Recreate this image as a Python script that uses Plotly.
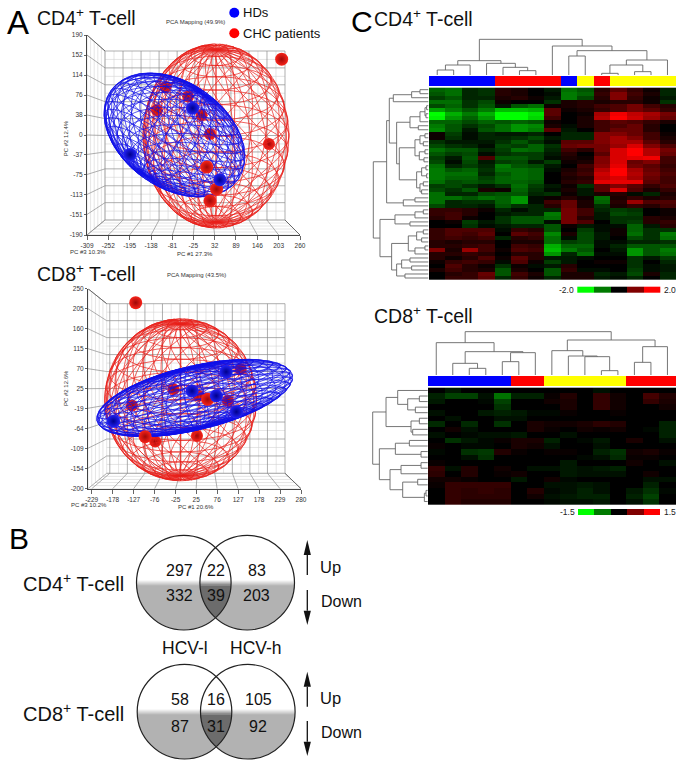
import numpy as np
import plotly.graph_objects as go

W, H = 683, 767
FONT = "Liberation Sans"
RED, BLUE, YEL = "#ff0000", "#0000ff", "#ffff00"

# ---------- PCA data (values read in PC units) ----------
cd4_x_ticks = [-309, -252, -195, -138, -81, -25, 32, 89, 146, 203, 260]
cd4_x_text = ["-309", "-252", "-195", "-138", "-81", "-25", "32", "89", "146", "203", "260"]
cd4_y_ticks = [190, 152, 114, 76, 38, 0, -37, -75, -113, -151, -190]
cd4_y_text = ["190", "152", "114", "76", "38", "0", "-37", "-75", "-113", "-151", "-190"]
cd4_red_back_x = [177, 19.5, -3, -39, -99, -122]
cd4_red_back_y = [-17, 2, 38, 73, 91, 47]
cd4_red_front_x = [211, 11, 37, 19.5]
cd4_red_front_y = [144, -61, -103, -125]
cd4_blue_x = [-194, -27, 46]
cd4_blue_y = [-37, 51, -85]

cd8_x_ticks = [-229, -178, -127, -76, -25, 25, 76, 127, 178, 229, 280]
cd8_x_text = ["-229", "-178", "-127", "-76", "-25", "25", "76", "127", "178", "229", "280"]
cd8_y_ticks = [250, 205, 160, 115, 70, 25, -19, -64, -109, -154, -200]
cd8_y_text = ["250", "205", "160", "115", "70", "25", "-19", "-64", "-109", "-154", "-200"]
cd8_red_back_x = [-30, -131, -74.5, 27, 31, 102, 133]
cd8_red_back_y = [24, -13, -94, -81, 9, -2, 69]
cd8_red_front_x = [-122, -99, 53]
cd8_red_front_y = [218.5, -83, 1]
cd8_blue_x = [-176, 15, 74, 98, 123]
cd8_blue_y = [-48, 20, 9, 63, -27]

# ---------- Heatmap data ----------
cd4_groups = [0, 0, 0, 0, 1, 1, 1, 1, 0, 2, 1, 2, 2, 2, 2]
cd8_groups = [0, 0, 0, 0, 0, 1, 1, 2, 2, 2, 2, 2, 1, 1, 1]
cd4_z = [
[-.8,-.9,-.3,-.4,.3,.2,0,-.2,-.9,-.7,.3,.7,.4,.1,-.3],
[-.7,-.9,-.3,-.4,.3,.2,0,-.1,-1,-.8,.4,1,.5,.2,-.3],
[-.5,-.7,-.3,-.3,.2,.3,.1,-.2,-1,-.6,.3,1,.4,.1,-.2],
[-.9,-.9,-.4,-.6,.1,0,0,-.4,.2,.3,.2,.3,.3,.1,-.4],
[-.6,-.8,-.4,-.7,-.2,-.7,-.9,.1,.2,.3,.5,.6,.9,.5,.3],
[-1.3,-1,-.7,-1,-1.5,-1.5,-1.4,.7,.1,.2,.4,.6,.9,.7,.4],
[-2,-1.4,-1,-1.4,-2,-2,-1.8,.7,0,.1,1.3,1.9,1.5,1.3,.9],
[-1.9,-1.2,-.8,-1.2,-2,-2,-1.7,.5,0,.2,1.4,2,1.6,1.2,.8],
[-.8,-.8,-.6,-.8,-.7,-.8,-.7,.1,0,.2,.5,.7,.6,.4,.2],
[-1,-.7,-.4,-.6,-.9,-1.2,-1.1,.2,-.1,.2,.5,.6,.8,.3,0],
[-1.1,-.7,-.2,-.7,-.9,-1.2,-1,.7,-.2,0,.5,.8,.8,.3,0],
[.1,-.5,-.1,-.3,-.2,-.2,-.3,0,-.3,-.3,1,1,.8,.5,.1],
[.1,-.4,-.1,-.3,-.3,-.4,-.6,-.2,-.3,-.3,1,1.3,1,.5,.2],
[-.4,-.2,-.2,-.2,-.4,-.7,-.4,-.1,.7,.7,1,1.3,1.3,.7,.3],
[-.6,-.4,-.3,-.1,-.6,-.5,-.8,-.4,.8,.9,.9,1.2,1.7,1,.6],
[-.9,-.7,-.7,-.3,-.5,-.9,-.8,-.3,.5,.3,.9,1.7,2,1.4,.9],
[-.7,-.5,-.6,-.1,-.4,-.5,-.5,-.2,.3,0,.7,1.7,2,1.4,.8],
[-.5,-.2,-.7,.6,-.7,-.7,-.5,-.1,.2,.1,1,1.7,1.8,1.9,.5],
[-.6,-.1,-.6,-.2,-.5,-.6,-.2,-.5,.1,.2,1,1.7,.8,1,.5],
[-.9,-.3,-.5,-.3,-1,-.7,-.6,-.2,0,.5,1.1,1.8,.9,.7,.4],
[-1,-.7,-.8,-.4,-.9,-.9,-.8,-.1,.2,.4,1.4,2,1.3,.8,.5],
[-1,-.9,-.9,-.3,-.7,-.9,-.8,0,.3,.5,1.6,2,1.4,.9,.6],
[-1,-.8,-.8,-.5,-.8,-.9,-.8,0,.2,.3,1.5,1.7,1.3,.8,.5],
[-.9,-.6,-.7,-.6,-.8,-.8,-.7,0,.3,.4,1.8,1.8,1.8,.7,.5],
[-.5,-.6,-.4,-.2,-.4,-.9,-.5,-.2,.1,-.4,.7,1,.7,.4,.6],
[-.6,-.4,-.7,.2,.1,-.8,-.4,-.1,.2,-.2,.7,1.7,.6,.2,.4],
[-.9,-.3,-.3,-.6,-.7,-.7,-.3,-.4,.1,-.2,.2,.3,-.1,-.3,.2],
[-.9,-.9,-.7,-.9,-.8,-1.2,-.1,.1,.3,.1,-.9,.2,.4,.2,.3],
[-.9,-.3,-.4,-.4,-.8,-1.2,-.1,.5,.8,.2,-.8,.3,1.2,.6,.6],
[-.6,-.3,-.3,-.2,-.7,-.4,-.3,.3,.8,.2,-.4,.2,.4,.3,.5],
[.4,.4,.3,.1,-.3,-.1,-.3,-.3,.9,.5,-.3,-.5,-.4,0,.1],
[.4,.5,.3,0,-.2,-.3,-.3,-1,.9,.5,-.2,-.6,-.5,0,.1],
[.3,.5,.1,0,-.4,-.7,-.7,-.9,.9,.3,-.2,-.4,-.4,.3,.2],
[0,.1,-.5,-.2,-.4,-.7,-.7,-.1,.9,.6,0,-.4,-.5,.3,.4],
[0,0,-.4,-.1,-.2,-.3,-.3,-.7,.1,-.2,-.1,-.1,-.8,-.2,.3],
[.4,.6,.6,.6,-.1,.4,.3,-.7,0,-.5,-.1,.1,-.8,-.4,-.4],
[.4,.6,.5,.7,0,.7,.5,-1.1,.2,-.6,-.2,.1,-.9,-.4,-1],
[.4,.5,.4,.5,-.3,.3,.4,-.9,-.1,-.6,-.2,0,-.6,-.4,-.9],
[.3,.2,.3,.3,0,.2,.2,-.9,-.5,-.6,-.1,-.1,-.3,-.3,-.4],
[.3,.3,.4,.5,0,.5,.4,-1.4,-.8,-.8,-.1,-.3,-.7,-.7,-.7],
[1,.2,1.2,.5,.1,.6,.5,-1.5,-1,-.7,0,-.2,-1.2,-.7,-1],
[.3,.3,.4,.3,0,.3,.3,-1.2,-.3,-.9,-.1,-.1,-1.2,-.7,-.9],
[.3,.1,.3,.6,.1,.7,.3,-.2,-.2,-.1,0,0,-.4,-.2,-.5],
[.1,.4,.5,.4,-.1,.6,.1,-.5,-.2,0,.1,.1,-.4,0,-.3],
[0,.6,.3,.1,-.4,.1,-.1,-.2,.3,0,0,0,-.4,-.1,-.2],
[.2,.5,.3,.2,-.7,.2,0,-.7,.4,-.1,-.1,0,-.5,-.1,-.2],
[0,.3,.4,.8,-.7,.5,.2,-.7,.2,.2,-.3,-.2,-.6,.2,-.3],
[0,.4,.4,.7,-.3,.4,.1,-.3,.2,.2,-.2,-.1,-.3,0,-.3],
]
cd8_z = [
[0,-.15,0,0,0,0,0,0,0,0,-.1,0,0,0,0],
[-.2,-.4,-.4,-.1,-.7,-.2,-.2,.05,.2,0,.3,.1,0,.4,.2],
[-.15,0,0,-.05,-.4,0,0,.1,.15,0,.3,.1,0,.3,.15],
[0,0,0,0,-.3,0,0,0,.15,0,.3,.1,0,0,.1],
[-.1,0,0,-.15,-.2,-.15,-.05,-.05,.05,0,0,.05,0,0,0],
[0,-.1,0,0,-.1,-.1,0,0,0,0,0,0,0,0,0],
[-.25,0,-.25,0,-.3,0,.15,.1,.1,.15,.25,.2,0,0,-.2],
[0,.1,-.1,0,0,0,.15,.05,0,.1,.05,.1,0,-.05,-.2],
[-.1,0,-.05,-.1,-.1,-.15,0,0,-.1,0,0,0,0,0,-.2],
[0,-.3,-.15,-.05,.05,.15,.15,-.2,0,-.05,-.15,0,.15,0,-.1],
[.05,0,-.05,-.05,0,.15,.1,-.1,0,0,-.1,0,0,0,0],
[-.05,0,-.3,-.35,.2,.05,0,.05,.05,0,-.2,-.3,.1,.15,.05],
[0,0,-.1,-.3,0,0,0,0,0,-.05,-.1,-.25,.05,.05,0],
[.05,0,0,0,0,0,0,0,-.15,0,0,0,.1,0,-.1],
[.3,-.1,.2,0,.1,0,-.1,-.1,-.15,-.1,-.15,-.2,0,0,0],
[.25,0,.2,0,.05,.1,0,0,-.15,-.1,-.1,-.1,0,.1,0],
[.1,.1,.05,0,0,-.15,0,.1,-.05,0,0,0,0,-.1,-.1],
[.05,.3,.3,.3,.3,0,0,-.1,-.1,-.15,-.1,0,0,-.2,0],
[0,.3,.25,.3,.25,0,.2,-.05,-.1,-.2,-.1,0,-.15,-.3,-.05],
[0,.3,.25,.25,.25,0,.1,-.1,-.15,-.2,-.2,0,-.2,-.4,0],
[0,.3,.2,.2,.2,0,0,-.05,-.1,-.1,-.15,0,-.1,-.3,0],
]
scale4_vals = [-2, -1, 0, 1, 2]
scale8_vals = [-1.5, -.75, 0, .75, 1.5]

# ---------- Dendrogram merges [distance, left, right]; ints are leaves ----------
cd4_col_tree = [107, [43, [30, [15, 0, 1], 2], [35, 3, [23, 4, [13, 5, 6]]]],
                [87, 7, [73, [57, 8, 9], [45, [30, [5, 10, 11], [10, 12, 13]], 14]]]]
cd8_col_tree = [130, [97, 0, [70, [35, 1, [20, 2, 3]], [67, [40, 4, 5], 6]]],
                [105, [73, 7, [57, 8, [55, 9, [13, 10, 11]]]], [85, [38, 12, 13], 14]]]
_A = [105, [50, [25, 0, 1], 2], 3]
_B = [55, [25, [10, [5, 4, 5], [7, 6, 7]], 8], [30, 9, 10]]
_C = [87, [40, [25, [10, 11, 12], [15, 13, 14]], [27, [10, 15, 16], [13, 17, 18]]],
      [35, [20, [7, 19, 20], [5, 21, 22]], [25, [15, 23, 24], [20, 25, 26]]]]
_D = [75, [40, 27, 28], 29]
_E = [100, [40, [15, 30, 31], 32], [55, 33, 34]]
_F = [110, [60, [35, [15, 35, 36], [20, 37, 38]], [40, [10, 39, 40], 41]],
      [95, [80, [55, 42, 43], [50, 44, 45]], [70, 46, 47]]]
cd4_row_tree = [165, [125, [117, _A, [95, _B, _C]], _D], [145, _E, _F]]
cd8_row_tree = [165,
    [125, [90, 0, [60, [25, 1, 2], [37, 3, 4]]], [50, [25, 5, 6], [45, 7, 8]]],
    [145, [97, [55, 9, 10], [20, 11, 12]],
     [113, [80, [20, 13, 14], 15], [75, [30, 16, 17], [10, [5, 18, 19], 20]]]]]

# ---------- Venn counts ----------
venn_cd4_up = ["297", "22", "83"]
venn_cd4_down = ["332", "39", "203"]
venn_cd8_up = ["58", "16", "105"]
venn_cd8_down = ["87", "31", "92"]

fig = go.Figure()
anns, shapes = [], []


def label(x, y, s, size, color="#111111", anchor="center", angle=0):
    anns.append(dict(x=x, y=y, xref="x", yref="y", text=s, showarrow=False,
                     font=dict(family=FONT, size=size, color=color), borderpad=0,
                     xanchor=anchor, yanchor="middle", textangle=angle))


def unit_mesh(tilt, nlat, nlon):
    lines = []
    lat = np.linspace(-np.pi / 2, np.pi / 2, nlat + 1)
    lon = np.linspace(0, 2 * np.pi, nlon + 1)
    fine = np.linspace(0, 2 * np.pi, 80)
    for la in lat[1:-1]:
        lines.append((np.cos(la) * np.cos(fine), np.cos(la) * np.sin(fine), np.sin(la) * np.ones_like(fine)))
    fl = np.linspace(-np.pi / 2, np.pi / 2, 40)
    for lo in lon[:-1]:
        lines.append((np.cos(fl) * np.cos(lo), np.cos(fl) * np.sin(lo), np.sin(fl)))
        lines.append((np.cos(fl) * np.cos(lo + fl), np.cos(fl) * np.sin(lo + fl), np.sin(fl)))
    xs, ys = [], []
    for X, Y, Z in lines:
        y2 = Y * np.sin(tilt) - Z * np.cos(tilt)
        xs += list(X) + [None]
        ys += list(y2) + [None]
    return xs, ys


def panel(sub, front, back, xr, yr, xt, xtx, yt, ytx, meshes, back_sph, front_sph):
    fx0, fx1, fy0, fy1 = front
    bx0, bx1, by0, by1 = back
    axn = str(sub)
    common = dict(tickmode="array", showgrid=False, zeroline=False, showline=True, linecolor="#444", linewidth=1,
                  ticks="outside", tickcolor="#666", tickwidth=0.6, automargin=False,
                  tickfont=dict(family=FONT, size=6.5, color="#333"))
    fig.update_layout({
        "xaxis" + axn: dict(domain=[fx0 / W, fx1 / W], range=xr, tickvals=xt, ticktext=xtx, ticklen=4,
                            anchor="y" + axn, **common),
        "yaxis" + axn: dict(domain=[1 - fy1 / H, 1 - fy0 / H], range=yr, tickvals=yt, ticktext=ytx, ticklen=2,
                            anchor="x" + axn, **common)})

    def dx(px):
        return xr[0] + (np.asarray(px, float) - fx0) / (fx1 - fx0) * (xr[1] - xr[0])

    def dy(py):
        return yr[1] - (np.asarray(py, float) - fy0) / (fy1 - fy0) * (yr[1] - yr[0])

    def to_px_x(v):
        return fx0 + (v - xr[0]) / (xr[1] - xr[0]) * (fx1 - fx0)

    def to_px_y(v):
        return fy0 + (yr[1] - v) / (yr[1] - yr[0]) * (fy1 - fy0)

    def add_lines(segs, color, w):
        xs, ys = [], []
        for (a, b, c, d) in segs:
            xs += [float(dx(a)), float(dx(c)), None]
            ys += [float(dy(b)), float(dy(d)), None]
        fig.add_trace(go.Scatter(x=xs, y=ys, mode="lines", line=dict(color=color, width=w),
                                 hoverinfo="skip", showlegend=False, xaxis="x" + axn, yaxis="y" + axn,
                                 cliponaxis=False))

    bxf = lambda p: bx0 + (p - fx0) / (fx1 - fx0) * (bx1 - bx0)
    byf = lambda p: by0 + (p - fy0) / (fy1 - fy0) * (by1 - by0)
    major, minor = [], []
    xpx = [to_px_x(v) for v in xt]
    ypx = [to_px_y(v) for v in yt]
    stepx = (xpx[-1] - xpx[0]) / (len(xpx) - 1)
    stepy = (ypx[-1] - ypx[0]) / (len(ypx) - 1)
    for p in xpx:
        major.append((bxf(p), by0, bxf(p), by1))
        major.append((p, fy1, bxf(p), by1))
        q = p + stepx / 2
        if q <= fx1:
            minor.append((bxf(q), by0, bxf(q), by1))
    for p in ypx:
        major.append((bx0, byf(p), bx1, byf(p)))
        major.append((fx0, p, bx0, byf(p)))
        q = p + stepy / 2
        if q <= fy1:
            minor.append((bx0, byf(q), bx1, byf(q)))
    for t in np.linspace(0, 1, 6):
        px_ = fx0 + t * (bx0 - fx0)
        minor.append((px_, fy0 + t * (by0 - fy0), px_, fy1 + t * (by1 - fy1)))
        ly = fy1 + t * (by1 - fy1)
        rx = fx1 + t * (bx1 - fx1)
        minor.append((px_, ly, rx, ly))
    add_lines(minor, "#d4d4d4", 0.6)
    add_lines(major, "#8c8c8c", 0.7)
    add_lines([(fx0, fy0, bx0, by0), (bx1, by1, fx1, fy1)], "#555", 0.8)

    def sph(xv, yv, col, edge, size):
        fig.add_trace(go.Scatter(x=xv, y=yv, mode="markers", cliponaxis=False, hoverinfo="skip", showlegend=False,
                                 marker=dict(size=size, color=col, line=dict(width=0),
                                             gradient=dict(type="radial", color=edge)),
                                 xaxis="x" + axn, yaxis="y" + axn))

    for (xv, yv, col, edge) in back_sph:
        sph(xv, yv, col, edge, 12)
    for (cx, cy, a, b, ang, tilt, col, w, nlat, nlon) in meshes:
        ux, uy = unit_mesh(tilt, nlat, nlon)
        c, s = np.cos(np.radians(ang)), np.sin(np.radians(ang))
        xs, ys = [], []
        for ax_, ay_ in zip(ux, uy):
            if ax_ is None:
                xs.append(None)
                ys.append(None)
            else:
                px_ = cx + a * ax_ * c - b * ay_ * s
                py_ = cy + a * ax_ * s + b * ay_ * c
                xs.append(float(dx(px_)))
                ys.append(float(dy(py_)))
        fig.add_trace(go.Scatter(x=xs, y=ys, mode="lines", line=dict(color=col, width=w), hoverinfo="skip",
                                 showlegend=False, xaxis="x" + axn, yaxis="y" + axn, cliponaxis=False))
    for (xv, yv, col, edge) in front_sph:
        sph(xv, yv, col, edge, 13)


def tree_segments(node, pos):
    if isinstance(node, int):
        return pos(node), 0, []
    d, a, b = node
    pa, ha, sa = tree_segments(a, pos)
    pb, hb, sb = tree_segments(b, pos)
    segs = sa + sb + [(pa, ha, pa, d), (pa, d, pb, d), (pb, d, pb, hb)]
    return (pa + pb) / 2, d, segs


def dendro(tree, kind, x0, dp, base):
    _, _, segs = tree_segments(tree, lambda i: x0 + (i + .5) * dp)
    xs, ys = [], []
    for (p1, d1, p2, d2) in segs:
        if kind == "top":
            xs += [p1, p2, None]
            ys += [base - d1 / 3, base - d2 / 3, None]
        else:
            xs += [base - d1 / 3, base - d2 / 3, None]
            ys += [p1, p2, None]
    fig.add_trace(go.Scatter(x=xs, y=ys, mode="lines", line=dict(color="#666666", width=0.9), hoverinfo="skip",
                             showlegend=False, xaxis="x", yaxis="y"))


heat_scale = [[0, "#00ff00"], [.25, "#007a00"], [.5, "#000000"], [.75, "#800000"], [1, "#ff0000"]]
group_scale = [[0, BLUE], [1 / 3, BLUE], [1 / 3, RED], [2 / 3, RED], [2 / 3, YEL], [1, YEL]]
step_scale = [[0, "#00ff00"], [.2, "#00ff00"], [.2, "#007a00"], [.4, "#007a00"], [.4, "#000000"], [.6, "#000000"],
              [.6, "#800000"], [.8, "#800000"], [.8, "#ff0000"], [1, "#ff0000"]]


def heat_block(z, groups, scale_vals, xl, xr_, yt, yb, bar_t, bar_b, lim, sc_box, sc_labels):
    nr, nc = len(z), len(z[0])
    dxx = (xr_ - xl) / nc
    dyy = (yb - yt) / nr
    fig.add_trace(go.Heatmap(z=z, x0=xl + dxx / 2, dx=dxx, y0=yt + dyy / 2, dy=dyy, colorscale=heat_scale,
                             zmin=-lim, zmax=lim, showscale=False, hoverinfo="skip", xaxis="x", yaxis="y"))
    fig.add_trace(go.Heatmap(z=[groups], x0=xl + dxx / 2, dx=dxx, y0=(bar_t + bar_b) / 2, dy=bar_b - bar_t,
                             colorscale=group_scale, zmin=0, zmax=2, showscale=False, hoverinfo="skip",
                             xaxis="x", yaxis="y"))
    sx0, sx1, sy0, sy1 = sc_box
    sd = (sx1 - sx0) / 5
    fig.add_trace(go.Heatmap(z=[scale_vals], x0=sx0 + sd / 2, dx=sd, y0=(sy0 + sy1) / 2, dy=sy1 - sy0,
                             colorscale=step_scale, zmin=-lim, zmax=lim, showscale=False, hoverinfo="skip",
                             xaxis="x", yaxis="y"))
    label(sx0 - 2.5, (sy0 + sy1) / 2, sc_labels[0], 8.5, "#222", "right")
    label(sx1 + 2.5, (sy0 + sy1) / 2, sc_labels[1], 8.5, "#222", "left")
    return dxx, dyy


# ---------- overlay axis ----------
fig.update_layout(xaxis=dict(domain=[0, 1], range=[0, W], visible=False, fixedrange=True, automargin=False),
                  yaxis=dict(domain=[0, 1], range=[H, 0], visible=False, fixedrange=True, automargin=False))

# ---------- panel C ----------
d1, r1 = heat_block(cd4_z, cd4_groups, scale4_vals, 429, 675.7, 87.7, 280, 76, 86, 2,
                    (577.3, 660, 286.7, 292.3), ("-2.0", "2.0"))
dendro(cd4_col_tree, "top", 429, d1, 75)
dendro(cd4_row_tree, "left", 87.7, r1, 428.3)
d2, r2 = heat_block(cd8_z, cd8_groups, scale8_vals, 428, 675.7, 387.7, 504.3, 376, 386, 1.5,
                    (578, 660.3, 509, 514.7), ("-1.5", "1.5"))
dendro(cd8_col_tree, "top", 428, d2, 375)
dendro(cd8_row_tree, "left", 387.7, r2, 427.7)

# ---------- panel A ----------
R_E, B_E = "#a00808", "#00008c"
R_C, B_C = "#f8241a", "#2222f5"
R_W, B_W = "#e8201a", "#1010e8"
panel(2, (87, 300, 35, 235), (105, 285, 51, 220), [-309, 260], [-190, 190],
      cd4_x_ticks, cd4_x_text, cd4_y_ticks, cd4_y_text,
      [(216, 136, 73, 92, 0, 0.35, R_W, 0.7, 18, 24), (174.5, 135, 77.6, 52.8, 34.9, 0.35, B_W, 0.7, 22, 30)],
      [(cd4_red_back_x, cd4_red_back_y, R_C, R_E)],
      [(cd4_red_front_x, cd4_red_front_y, R_C, R_E), (cd4_blue_x, cd4_blue_y, B_C, B_E)])
panel(3, (88, 301, 288.7, 488.7), (106.7, 285, 303.7, 473.3), [-238, 280], [-200, 250],
      cd8_x_ticks, cd8_x_text, cd8_y_ticks, cd8_y_text,
      [(180.7, 399.8, 76, 81, 0, 0.35, R_W, 0.7, 18, 24), (194.7, 398, 100.4, 32, -13.2, 0.35, B_W, 0.7, 22, 30)],
      [(cd8_red_back_x, cd8_red_back_y, R_C, R_E)],
      [(cd8_red_front_x, cd8_red_front_y, R_C, R_E), (cd8_blue_x, cd8_blue_y, B_C, B_E)])


# ---------- panel B ----------
def circ_rows(cx, cy, r, y):
    h = np.sqrt(np.maximum(r * r - (y - cy) ** 2, 0))
    return cx - h, cx + h


def band_path(xl, xr_, ys):
    pts = list(zip(xl, ys)) + list(zip(xr_[::-1], ys[::-1]))
    return "M" + "L".join(f"{a:.2f},{b:.2f}" for a, b in pts) + "Z"


def venn(c1, c2, cy, r, y_mid, counts_up, counts_down, tx, name, name_y):
    edges = list(np.arange(y_mid - 3, y_mid + 3, 1.0)) + [y_mid + 3]
    bands = [(edges[i], edges[i + 1], (i + .5) / (len(edges) - 1)) for i in range(len(edges) - 1)]
    bands.append((y_mid + 3 - .2, cy + r, 1.0))
    for (y1, y2, t) in bands:
        ys = np.linspace(y1, y2, 40)
        g = int(255 + t * (178 - 255))
        gi = int(255 + t * (108 - 255))
        for c in (c1, c2):
            ys_c = ys[np.abs(ys - cy) <= r]
            l, rr = circ_rows(c, cy, r, ys_c)
            shapes.append(dict(type="path", path=band_path(l, rr, ys_c), xref="x", yref="y",
                               fillcolor=f"rgb({g},{g},{g})", line=dict(width=0), layer="below"))
        l1, r1_ = circ_rows(c1, cy, r, ys)
        l2, r2_ = circ_rows(c2, cy, r, ys)
        li, ri = np.maximum(l1, l2), np.minimum(r1_, r2_)
        keep = ri > li
        if keep.sum() > 1:
            shapes.append(dict(type="path", path=band_path(li[keep], ri[keep], ys[keep]), xref="x", yref="y",
                               fillcolor=f"rgb({gi},{gi},{gi})", line=dict(width=0), layer="below"))
    for c in (c1, c2):
        shapes.append(dict(type="circle", x0=c - r, x1=c + r, y0=cy - r, y1=cy + r, xref="x", yref="y",
                           line=dict(color="#222", width=1.2), fillcolor="rgba(0,0,0,0)"))
    for s, x_ in zip(counts_up, tx[0]):
        label(x_, tx[1], s, 16)
    for s, x_ in zip(counts_down, tx[0]):
        label(x_, tx[2], s, 16)
    label(21.5, name_y, name, 20, "#111", "left")


venn(183.8, 247.2, 582.7, 47.3, 583, venn_cd4_up, venn_cd4_down, ((179, 215.7, 256.7), 570, 595),
     "CD4<sup>+</sup> T-cell", 582.7)
venn(184.5, 247.8, 711.7, 47.3, 712, venn_cd8_up, venn_cd8_down, ((180, 216, 258), 699.3, 726.7),
     "CD8<sup>+</sup> T-cell", 712.7)


def arrow(x, start, tip, base):
    shapes.append(dict(type="line", x0=x, x1=x, y0=start, y1=base, xref="x", yref="y",
                       line=dict(color="#111", width=1.3)))
    shapes.append(dict(type="path", path=f"M{x - 3.6},{base}L{x + 3.6},{base}L{x},{tip}Z", xref="x", yref="y",
                       fillcolor="#111", line=dict(width=0)))


arrow(307.3, 575, 540, 555)
arrow(307.3, 590, 625, 610.7)
arrow(307.3, 706.7, 671.7, 686.7)
arrow(307.3, 721, 756, 741.7)
label(319, 566.7, "Up", 16.5, "#111", "left")
label(320, 601, "Down", 16, "#111", "left")
label(319, 698, "Up", 16.5, "#111", "left")
label(320, 732, "Down", 16, "#111", "left")
label(185, 648.3, "HCV-l", 17.5)
label(256, 648.3, "HCV-h", 17.5)

# ---------- titles and letters ----------
label(6, 22, "A", 33, "#000", "left")
label(8, 538, "B", 30, "#000", "left")
label(350, 21, "C", 30, "#000", "left")
label(36, 17.3, "CD4<sup>+</sup> T-cell", 19.5, "#111", "left")
label(36, 273, "CD8<sup>+</sup> T-cell", 19.5, "#111", "left")
label(373, 18, "CD4<sup>+</sup> T-cell", 19.5, "#111", "left")
label(373, 315, "CD8<sup>+</sup> T-cell", 19.5, "#111", "left")
label(241.7, 12.7, "HDs", 13, "#111", "left")
label(241.7, 33.3, "CHC patients", 13, "#111", "left")
fig.add_trace(go.Scatter(x=[234.3, 234.3], y=[12.7, 33.3], mode="markers", hoverinfo="skip", showlegend=False,
                         marker=dict(size=10, color=[BLUE, RED], line=dict(width=0)), xaxis="x", yaxis="y"))
label(195.7, 21.7, "PCA Mapping (49.9%)", 6, "#333")
label(196.7, 275, "PCA Mapping (43.5%)", 6, "#333")
label(195, 254, "PC #1 27.3%", 6, "#333")
label(195.7, 507, "PC #1 20.6%", 6, "#333")
label(66, 138.3, "PC #2 12.4%", 6, "#333", angle=-90)
label(66.7, 388.3, "PC #2 12.6%", 6, "#333", angle=-90)
label(88, 252, "PC #3 10.3%", 6, "#333")
label(89, 505, "PC #3 10.2%", 6, "#333")

fig.update_layout(width=W, height=H, margin=dict(l=0, r=0, t=0, b=0), paper_bgcolor="white",
                  plot_bgcolor="rgba(0,0,0,0)", showlegend=False, annotations=anns, shapes=shapes)
fig.write_html("out.html", config={"displayModeBar": False}, post_script="document.body.style.margin='0';")
